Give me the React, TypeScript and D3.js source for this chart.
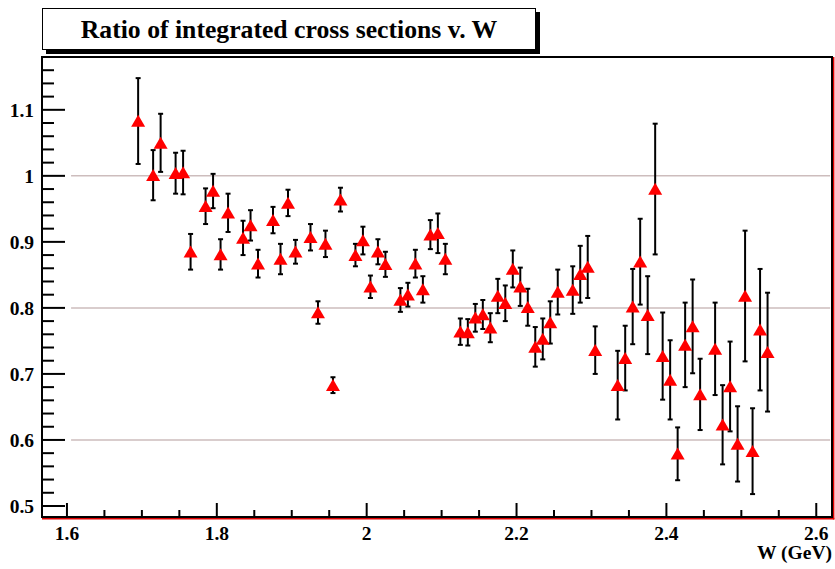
import * as d3 from "d3";
import React from "react";

// W bin centres (GeV), ratio and its error
const wValues = [
  1.695, 1.715, 1.725, 1.745, 1.755, 1.765, 1.785, 1.795, 1.805, 1.815,
  1.835, 1.845, 1.855, 1.875, 1.885, 1.895, 1.905, 1.925, 1.935, 1.945,
  1.955, 1.965, 1.985, 1.995, 2.005, 2.015, 2.025, 2.045, 2.055, 2.065,
  2.075, 2.085, 2.095, 2.105, 2.125, 2.135, 2.145, 2.155, 2.165, 2.175,
  2.185, 2.195, 2.205, 2.215, 2.225, 2.235, 2.245, 2.255, 2.275, 2.285,
  2.295, 2.305, 2.335, 2.345, 2.355, 2.365, 2.375, 2.385, 2.395, 2.405,
  2.415, 2.425, 2.435, 2.445, 2.465, 2.475, 2.485, 2.495, 2.505, 2.515,
  2.525, 2.535,
];
const ratios = [
  1.083, 1.001, 1.05, 1.004, 1.005, 0.885, 0.954, 0.977, 0.881, 0.944,
  0.906, 0.925, 0.867, 0.933, 0.874, 0.959, 0.885, 0.907, 0.793, 0.897,
  0.683, 0.964, 0.88, 0.902, 0.832, 0.885, 0.866, 0.812, 0.82, 0.867,
  0.828, 0.911, 0.913, 0.874, 0.764, 0.763, 0.785, 0.79, 0.77, 0.818,
  0.807, 0.859, 0.832, 0.801, 0.741, 0.753, 0.778, 0.824, 0.827, 0.851,
  0.862, 0.736, 0.683, 0.724, 0.802, 0.87, 0.789, 0.98, 0.727, 0.691,
  0.579, 0.744, 0.772, 0.669, 0.738, 0.623, 0.681, 0.594, 0.818, 0.583,
  0.767, 0.733,
];
const errors = [
  0.065, 0.038, 0.044, 0.031, 0.033, 0.027, 0.027, 0.026, 0.023, 0.029,
  0.026, 0.023, 0.021, 0.02, 0.023, 0.02, 0.018, 0.02, 0.017, 0.02,
  0.012, 0.018, 0.017, 0.021, 0.017, 0.019, 0.019, 0.018, 0.018, 0.021,
  0.02, 0.022, 0.03, 0.023, 0.02, 0.02, 0.021, 0.022, 0.022, 0.026,
  0.027, 0.028, 0.029, 0.028, 0.03, 0.031, 0.032, 0.034, 0.036, 0.043,
  0.047, 0.036, 0.052, 0.049, 0.057, 0.065, 0.059, 0.099, 0.066, 0.06,
  0.04, 0.064, 0.071, 0.054, 0.07, 0.06, 0.068, 0.057, 0.099, 0.065,
  0.092, 0.09,
];
const xTickLabels = [1.6, 1.8, 2.0, 2.2, 2.4, 2.6];
const yTickLabels = [0.5, 0.6, 0.7, 0.8, 0.9, 1.0, 1.1];
const gridValues = [0.6, 0.8, 1.0];
const title = "Ratio of integrated cross sections v. W";
const xTitle = "W (GeV)";

const W = 835,
  H = 569;
const frame = { left: 42, right: 832, top: 57, bottom: 517 };
const font = "'Liberation Serif', 'Times New Roman', serif";

// ROOT style triangle marker, bounding box centred on the point
const triangle = (cx: number, cy: number) => {
  const p = d3.path();
  p.moveTo(cx, cy - 6.2);
  p.lineTo(cx + 7, cy + 5.8);
  p.lineTo(cx - 7, cy + 5.8);
  p.closePath();
  return p.toString();
};

const App = () => {
  const x = d3.scaleLinear().domain([1.5667, 2.621]).range([frame.left, frame.right]);
  const y = d3.scaleLinear().domain([0.4833, 1.18]).range([frame.bottom, frame.top]);

  const pts = wValues.map((w, i) => ({ w, r: ratios[i], e: errors[i] }));

  // ticks: x major 0.2 / minor 0.05, y major 0.1 / minor 0.02
  const xMinor = d3.range(0, 22).map((i) => 1.6 + i * 0.05).filter((v) => v <= 2.621);
  const yMinor = d3.range(0, 35).map((i) => 0.5 + i * 0.02).filter((v) => v <= 1.18);
  const xMajLen = 14,
    xMinLen = 7,
    yMajLen = 23,
    yMinLen = 12;

  return (
    <svg
      width={W}
      height={H}
      style={{ position: "absolute", left: 0, top: 0, background: "#fff" }}
    >
      {/* title box with shadow */}
      <rect x={46} y={12} width={494} height={42} fill="#000" />
      <rect x={42.5} y={8.5} width={493} height={41} fill="#fff" stroke="#000" strokeWidth={1} />
      <text
        x={289}
        y={38}
        textAnchor="middle"
        fontFamily={font}
        fontWeight="bold"
        fontSize={25.7}
      >
        {title}
      </text>

      {/* grid lines */}
      {gridValues.map((g) => (
        <line
          key={g}
          x1={x(1.6055)}
          x2={x(2.6185)}
          y1={y(g)}
          y2={y(g)}
          stroke="#cdbdbd"
          strokeWidth={1.5}
        />
      ))}

      {/* frame */}
      <line x1={frame.right + 1.6} x2={frame.right + 1.6} y1={frame.top} y2={frame.bottom + 2.4} stroke="#e00000" strokeWidth={1.6} />
      <line x1={frame.left} x2={frame.right + 2.4} y1={frame.bottom + 1.6} y2={frame.bottom + 1.6} stroke="#e00000" strokeWidth={1.6} />
      <rect
        x={frame.left}
        y={frame.top}
        width={frame.right - frame.left}
        height={frame.bottom - frame.top}
        fill="none"
        stroke="#000"
        strokeWidth={2}
      />

      {/* x ticks */}
      {xMinor.map((v, i) => {
        const major = i % 4 === 0;
        return (
          <line
            key={"xt" + i}
            x1={x(v)}
            x2={x(v)}
            y1={frame.bottom}
            y2={frame.bottom - (major ? xMajLen : xMinLen)}
            stroke="#000"
            strokeWidth={2}
          />
        );
      })}
      {xTickLabels.map((v) => (
        <text
          key={"xl" + v}
          x={x(v)}
          y={540}
          textAnchor="middle"
          fontFamily={font}
          fontWeight="bold"
          fontSize={19.5}
        >
          {d3.format("~g")(v)}
        </text>
      ))}
      <text
        x={frame.right}
        y={559}
        textAnchor="end"
        fontFamily={font}
        fontWeight="bold"
        fontSize={19.5}
      >
        {xTitle}
      </text>

      {/* y ticks */}
      {yMinor.map((v, i) => {
        const major = i % 5 === 0;
        return (
          <line
            key={"yt" + i}
            x1={frame.left}
            x2={frame.left + (major ? yMajLen : yMinLen)}
            y1={y(v)}
            y2={y(v)}
            stroke="#000"
            strokeWidth={2}
          />
        );
      })}
      {yTickLabels.map((v) => (
        <text
          key={"yl" + v}
          x={34}
          y={y(v)}
          dy="0.35em"
          textAnchor="end"
          fontFamily={font}
          fontWeight="bold"
          fontSize={19.5}
        >
          {d3.format("~g")(v)}
        </text>
      ))}

      {/* error bars */}
      {pts.map((p, i) => (
        <g key={"e" + i} stroke="#000" strokeWidth={2}>
          <line x1={x(p.w)} x2={x(p.w)} y1={y(p.r - p.e)} y2={y(p.r + p.e)} />
          <line x1={x(p.w) - 2.5} x2={x(p.w) + 2.5} y1={y(p.r - p.e)} y2={y(p.r - p.e)} />
          <line x1={x(p.w) - 2.5} x2={x(p.w) + 2.5} y1={y(p.r + p.e)} y2={y(p.r + p.e)} />
        </g>
      ))}

      {/* markers */}
      {pts.map((p, i) => (
        <path key={"m" + i} d={triangle(x(p.w), y(p.r))} fill="#ff0000" />
      ))}
    </svg>
  );
};

export default App;
